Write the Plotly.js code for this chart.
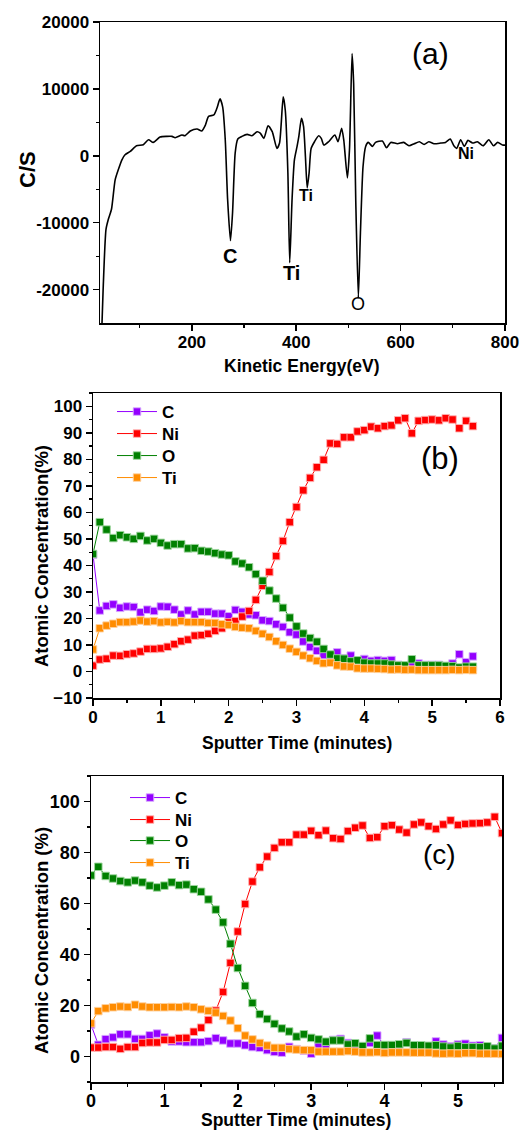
<!DOCTYPE html>
<html>
<head>
<meta charset="utf-8">
<script src="https://cdn.plot.ly/plotly-3.0.1.min.js"></script>
<style>html,body{margin:0;padding:0;background:#fff;}#chart{width:523px;height:1130px;}</style>
</head>
<body>
<div id="chart"></div>
<script>
// ---------- Panel (a): AES spectrum ----------
const energyA = [27,30,35.5,40,46,53,59,66,72,82,94,107,117,126,139,152,162,168,181,187,197,210,219,226,232,242,248,254,259,264,268.5,274,278,283,288,296,306,315,325,331,338,346,354,363,368,375,379,384,387.5,392,396.5,401.6,405,410,414,417.6,421,424.6,428.5,435,443,448,453,462,474,480,487,491,498,502,507,510,514,519,523,528,533,538,546,552,565,573,581,594,606,616,626,636,645,654,664,677,686,695,702,707.5,715,722,729,738,747,758,769,778,786,795,800];
const countsA = [-27000,-20000,-11000,-9500,-8000,-3600,-2100,-600,150,650,1500,1650,2400,2000,2800,2900,2900,2700,3100,3000,3700,4000,3700,4600,5900,6100,7100,8500,7300,2400,-6500,-12700,-8500,400,2500,2900,3200,3000,3600,3400,2600,4500,3600,1100,1900,8800,6800,-2600,-16000,-6500,-600,1400,2900,5600,4400,-100,-4800,-2600,1100,2100,3000,2600,1600,2100,3100,2100,4100,2400,-3300,900,15300,10800,-6500,-21200,-11500,-1600,1400,2000,1400,2000,2200,1200,2000,1800,2000,1500,1800,2100,1700,2100,1800,1900,2000,2500,1500,1100,2400,1400,2300,1900,2100,1500,2400,1500,2000,1600,1600];
const yTickValsA = [-20000,-10000,0,10000,20000];
const yTickTextA = ['-20000','-10000','0','10000','20000'];
const xTickValsA = [200,400,600,800];
const peakLabels = ['C','Ti','Ti','Ni','O'];
const peakE = [274,390,419.5,725,518.7];
const peakY = [-15000,-17500,-5950,400,-22170];

// ---------- Panel (b) and (c): depth profiles ----------
const timeMin = [0,0.1,0.2,0.3,0.4,0.5,0.6,0.7,0.8,0.9,1.0,1.1,1.2,1.3,1.4,1.5,1.6,1.7,1.8,1.9,2.0,2.1,2.2,2.3,2.4,2.5,2.6,2.7,2.8,2.9,3.0,3.1,3.2,3.3,3.4,3.5,3.6,3.7,3.8,3.9,4.0,4.1,4.2,4.3,4.4,4.5,4.6,4.7,4.8,4.9,5.0,5.1,5.2,5.3,5.4,5.5,5.6];
const seriesNames = ['C','Ni','O','Ti'];

const cB  = [44,23,24.7,25.3,24,24.5,24.3,22.3,23.3,22.8,24.5,24.4,23.3,21.5,23,21.5,22.5,22.5,21.8,21.8,20.8,23.2,22.5,21.5,21.2,19.3,19,17.8,16.8,14.8,13.9,11.3,9.2,7.8,6.2,5.3,7.2,5,6,4,4.7,4,4.3,4,4.3,2.5,2,3,3,2.5,2.5,2.5,2,3,6.5,3.5,5.7];
const niB = [2.2,4.5,4.8,6,5.9,6.5,6.8,7.5,8.5,8.5,8.7,9.3,10.3,11.4,12,13.5,13.7,14.2,15.3,16.3,18.5,19,20.7,22.8,27,32.3,37.5,43.5,49.2,56.3,62,68.3,73,77,79.8,86,85.8,88.3,88.3,90.5,91,92.3,91.7,92.5,92.8,94.7,95.5,89.8,94.5,94.8,95,94.7,95.5,95,91.7,94.5,92.5];
const oB  = [44.3,56.3,53.5,50.3,51.4,50.6,50,51.1,49.4,50,48.5,47.5,48,48,46.4,46.5,45.5,45.2,44.6,44.1,43.8,41.5,40.7,39.3,36.7,34.2,30.5,27.5,24,20.3,17,14.3,12.6,11.2,8.5,6.4,4.9,4.8,3.8,4.2,3.3,3,3,3,2.6,2.3,2.3,4.6,2.3,2.3,2.3,2.3,2.1,2,1.5,1.8,1.8];
const tiB = [8.3,16.3,17.3,18,18.6,18.6,18.8,19.2,18.8,19,18.5,18.7,18.5,19,18.6,18.6,18.6,18.3,18.3,17.8,17.5,16.8,16.5,16.3,15.3,14.2,13,11.4,10,8.6,7.4,6,5,4,3.1,3.3,2.3,1.9,1.8,1.2,1.1,1.1,1.0,0.9,0.7,0.8,0.6,0.7,0.5,0.5,0.5,0.5,0.5,0.6,0.5,0.6,0.5];

const cC  = [12.5,4.6,6.8,7.5,8.7,8.7,6.9,6.9,8.3,9,7.5,5.9,5.9,5.6,5.6,5.6,6,7.2,6.3,5.1,5.1,4.4,3.7,3.4,2.5,1.8,1.5,3.8,2.9,2.3,1.1,4.7,4.1,6.5,6.9,5.3,4.2,3.7,5.3,8.2,4.1,4.2,4,5.6,3.2,3.2,3.3,5.9,4.7,4,4.7,5,4.2,4.4,2.9,3.2,7.3];
const niC = [3.5,3.5,3.7,3.7,3,3.7,3.7,5.3,5.5,5.5,6.5,6.5,7.2,7.3,9.7,11.3,14.3,18,25.3,36.7,49,59.8,68.6,74.2,78.4,81.8,84,84,87,87,88.5,86.8,88.6,85.6,85.3,88.4,89.7,90.6,85.7,86,90.3,90.7,89,87.8,91,91.8,90.3,89.2,91,92.6,90.8,91.2,91.4,91.5,91.8,94,87.6];
const oC  = [71,74.4,70.8,69.8,68.8,68.3,69,68.3,67,66.3,67,68.3,67.2,67.4,65.6,64.6,61.6,57.6,52.6,44.2,34.7,27.7,21,16.6,14.7,12.8,11,9.8,7.8,8.7,7.3,6.7,5.8,6.3,6.3,4.7,5.2,4.1,7.1,4.5,4.5,4.5,4.8,5.3,4.4,4.4,4.2,4.4,3.9,3.5,4.1,3.6,3.6,3.6,4,3.1,4.2];
const tiC = [13,17.8,18.9,19.3,19.6,19.4,20.3,19.6,19.3,19.3,19.3,19.4,19.3,19.6,19.3,18.5,17.9,17.2,15.9,14.1,11.1,8.2,6.7,5.3,4.3,3.4,3.4,2.9,2.7,2.5,2.5,1.9,1.9,1.9,1.9,2.1,1.9,1.6,1.6,1.7,1.4,1.6,1.6,1.6,1.5,1.5,1.5,1.2,1.1,1.2,1.1,1.3,1.3,1.1,1.1,1.1,1.0];

const colors = ['#9400FF','#FF0000','#008000','#FF8C00'];
const haloColors = ['rgba(215,170,255,0.9)','rgba(255,180,180,0.9)','rgba(160,215,160,0.9)','rgba(255,210,160,0.9)'];

const FONT = '"Liberation Sans", Arial, sans-serif';
const W = 523, H = 1130;
const px = v => v / W;
const py = v => 1 - v / H;

const traces = [];
traces.push({
  x: energyA, y: countsA, type: 'scatter', mode: 'lines',
  line: {color: '#000', width: 1.6, shape: 'spline', smoothing: 0.6},
  xaxis: 'x', yaxis: 'y', showlegend: false, hoverinfo: 'skip'
});

// one single-entry legend per series so each entry sits where the reference has it
const legendLayouts = {};
function addProfile(seriesList, xa, ya, firstLegendNum, legX, legYs) {
  seriesList.forEach((vals, i) => {
    const n = firstLegendNum + i;
    const legId = n === 1 ? 'legend' : 'legend' + n;
    traces.push({
      x: timeMin, y: vals, type: 'scatter', mode: 'lines+markers',
      name: seriesNames[i],
      line: {color: colors[i], width: 1},
      marker: {symbol: 'square', size: 7.5, color: colors[i], line: {color: haloColors[i], width: 1}},
      xaxis: xa, yaxis: ya, legend: legId
    });
    legendLayouts[legId] = {
      x: px(legX), y: py(legYs[i]), xanchor: 'left', yanchor: 'middle',
      bgcolor: 'rgba(0,0,0,0)', borderwidth: 0, itemwidth: 40,
      font: {family: FONT, size: 17, color: '#000', weight: 700}
    };
  });
}
addProfile([cB, niB, oB, tiB], 'x2', 'y2', 1, 112, [412, 434, 456, 478]);
addProfile([cC, niC, oC, tiC], 'x3', 'y3', 5, 125, [798, 820, 841, 863]);

const tickFont = (s) => ({family: FONT, size: s, color: '#000', weight: 700});
const axBase = {
  showgrid: false, zeroline: false, showline: true, linecolor: '#000', linewidth: 1.5,
  mirror: true, ticks: 'outside', ticklen: 6, tickwidth: 1.5, tickcolor: '#000',
  tickfont: tickFont(17), fixedrange: true
};
const minorT = (o) => Object.assign({ticks: 'outside', ticklen: 3, tickwidth: 1.2, tickcolor: '#000'}, o);

const layout = {
  width: W, height: H,
  margin: {l: 0, r: 0, t: 0, b: 0},
  paper_bgcolor: '#fff', plot_bgcolor: '#fff',
  showlegend: true,
  xaxis: Object.assign({}, axBase, {
    domain: [px(100), px(505)], anchor: 'y', range: [24, 800],
    tickmode: 'array', tickvals: xTickValsA, ticklabelstandoff: -3,
    minor: minorT({tickvals: [100,300,500,700]})
  }),
  yaxis: Object.assign({}, axBase, {
    domain: [py(323), py(22)], anchor: 'x', range: [-25000, 20000],
    tickmode: 'array', tickvals: yTickValsA, ticktext: yTickTextA,
    minor: minorT({tickvals: [-15000,-5000,5000,15000]})
  }),
  xaxis2: Object.assign({}, axBase, {
    domain: [px(93), px(500)], anchor: 'y2', range: [0, 6],
    tickmode: 'linear', tick0: 0, dtick: 1, ticklabelstandoff: -3,
    minor: minorT({dtick: 0.5})
  }),
  yaxis2: Object.assign({}, axBase, {
    domain: [py(698), py(393)], anchor: 'x2', range: [-10, 105],
    tickmode: 'linear', tick0: 0, dtick: 10,
    minor: minorT({dtick: 5})
  }),
  xaxis3: Object.assign({}, axBase, {
    domain: [px(91), px(502)], anchor: 'y3', range: [0, 5.6],
    tickmode: 'linear', tick0: 0, dtick: 1, ticklabelstandoff: -4,
    minor: minorT({dtick: 0.5}),
    tickfont: tickFont(18)
  }),
  yaxis3: Object.assign({}, axBase, {
    domain: [py(1082), py(776)], anchor: 'x3', range: [-10, 110],
    tickmode: 'linear', tick0: 0, dtick: 20,
    minor: minorT({dtick: 10}),
    tickfont: tickFont(18)
  }),
  annotations: [
    {text: '(a)', xref: 'paper', yref: 'paper', x: px(430), y: py(53), xanchor: 'center', yanchor: 'middle', showarrow: false,
     font: {family: FONT, size: 30, color: '#000'}},
    {text: '(b)', xref: 'paper', yref: 'paper', x: px(440), y: py(458), xanchor: 'center', yanchor: 'middle', showarrow: false,
     font: {family: FONT, size: 31, color: '#000'}},
    {text: '(c)', xref: 'paper', yref: 'paper', x: px(439), y: py(854), xanchor: 'center', yanchor: 'middle', showarrow: false,
     font: {family: FONT, size: 28, color: '#000'}}
  ]
};
Object.assign(layout, legendLayouts);

// axis titles placed as text at the reference's positions
const axisTitles = [
  {text: 'C/S', x: 27, y: 170, size: 22, angle: -90},
  {text: 'Kinetic Energy(eV)', x: 302, y: 366, size: 17.5, angle: 0},
  {text: 'Atomic Concentration(%)', x: 41, y: 556, size: 18.5, angle: -90},
  {text: 'Sputter Time (minutes)', x: 297, y: 743, size: 17.5, angle: 0},
  {text: 'Atomic Concentration (%)', x: 41, y: 941, size: 18.5, angle: -90},
  {text: 'Sputter Time (minutes)', x: 296, y: 1120, size: 17.5, angle: 0}
];
axisTitles.forEach(t => {
  layout.annotations.push({
    text: t.text, xref: 'paper', yref: 'paper', x: px(t.x), y: py(t.y),
    xanchor: 'center', yanchor: 'middle', textangle: t.angle, showarrow: false,
    font: {family: FONT, size: t.size, color: '#000', weight: 700}
  });
});

const peakSizes = [20, 20, 16, 16, 18];
const peakWeights = [700, 700, 700, 700, 400];
peakLabels.forEach((t, i) => {
  layout.annotations.push({
    text: t, xref: 'x', yref: 'y', x: peakE[i], y: peakY[i], showarrow: false,
    xanchor: 'center', yanchor: 'middle',
    font: {family: FONT, size: peakSizes[i], color: '#000', weight: peakWeights[i]}
  });
});

Plotly.newPlot('chart', traces, layout, {staticPlot: true, displayModeBar: false});
</script>
</body>
</html>
